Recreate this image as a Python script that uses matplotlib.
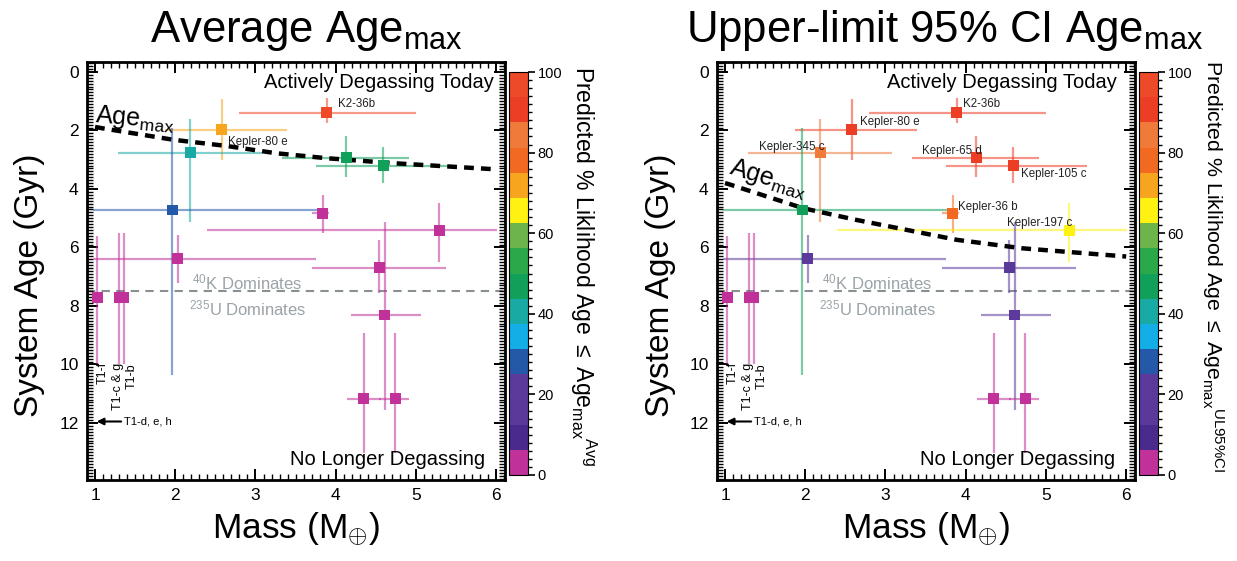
import numpy as np
import matplotlib
matplotlib.use("Agg")
import matplotlib.pyplot as plt
from matplotlib.colors import ListedColormap, Normalize
from matplotlib.cm import ScalarMappable
from matplotlib.ticker import MultipleLocator

plt.rcParams['font.family'] = ['Liberation Sans', 'DejaVu Sans']
plt.rcParams['mathtext.fontset'] = 'custom'
plt.rcParams['mathtext.rm'] = 'Liberation Sans'
plt.rcParams['mathtext.it'] = 'Liberation Sans:italic'
plt.rcParams['mathtext.bf'] = 'Liberation Sans:bold'

# ---------------- data ----------------
planets = ["K2-36b", "Kepler-80 e", "Kepler-345 c", "Kepler-65 d", "Kepler-105 c",
           "P6", "Kepler-36 b", "Kepler-197 c", "P9", "P10", "P11", "P12", "P13",
           "T1-f", "T1-c & g", "T1-b"]
mass = [3.89, 2.58, 2.19, 4.13, 4.59, 1.96, 3.84, 5.29, 2.03, 4.54, 4.61, 4.35, 4.74, 1.03, 1.30, 1.36]
mass_lo = [1.10, 0.71, 0.90, 0.80, 0.84, 0.98, 0.13, 2.90, 1.05, 0.84, 0.42, 0.21, 0.20, 0.03, 0.03, 0.03]
mass_hi = [1.11, 0.81, 0.89, 0.78, 0.92, 1.95, 0.08, 0.72, 1.72, 0.84, 0.45, 0.21, 0.17, 0.03, 0.03, 0.03]
age = [1.40, 1.97, 2.76, 2.93, 3.20, 4.72, 4.83, 5.42, 6.38, 6.69, 8.31, 11.17, 11.17, 7.70, 7.70, 7.70]
age_lo = [0.50, 1.04, 1.14, 0.73, 0.65, 2.82, 0.63, 0.94, 0.79, 0.93, 3.17, 2.24, 2.24, 2.10, 2.20, 2.20]
age_hi = [0.35, 1.03, 2.38, 0.67, 0.60, 5.63, 0.67, 1.08, 0.82, 0.86, 3.24, 1.86, 1.86, 2.30, 2.30, 2.30]

likelihood_avg = [95, 72, 40, 47, 47, 28, 3, 3, 3, 3, 3, 3, 3, 3, 3, 3]
likelihood_ul = [92, 90, 84, 91, 90, 47, 79, 65, 20, 15, 20, 3, 3, 3, 3, 3]

agemax_mass_avg = [1.00, 1.10, 1.98, 2.64, 3.26, 3.89, 4.72, 6.00]
agemax_avg = [1.88, 1.93, 2.32, 2.53, 2.78, 2.95, 3.12, 3.33]
agemax_mass_ul = [1.00, 1.04, 1.975, 2.64, 3.89, 4.71, 6.00]
agemax_ul = [3.80, 3.83, 4.66, 5.06, 5.74, 6.03, 6.31]
ku_age = [7.5, 7.5]
ku_mass = [0.9, 6.11]

cbar_colors = ['#c0329a', '#4a2a8c', '#5a399b', '#5c3a9c', '#2458a8', '#13aee6',
               '#1aaaa5', '#10a05a', '#2aa84a', '#6db44b', '#fff212', '#f7a51f',
               '#f26a22', '#f07a3a', '#ec3e24', '#ee4a2a']
cmap = ListedColormap(cbar_colors)
norm = Normalize(0, 100)

# labels per panel: (text, x, y, ha)
labels_avg = [("K2-36b", 4.03, 1.10, 'left'), ("Kepler-80 e", 2.66, 2.38, 'left')]
labels_ul = [("K2-36b", 3.96, 1.10, 'left'), ("Kepler-80 e", 2.68, 1.70, 'left'),
             ("Kepler-345 c", 1.42, 2.55, 'left'), ("Kepler-65 d", 3.45, 2.70, 'left'),
             ("Kepler-105 c", 4.69, 3.50, 'left'), ("Kepler-36 b", 3.91, 4.60, 'left'),
             ("Kepler-197 c", 4.51, 5.15, 'left')]

W, H = 1237, 561
fig = plt.figure(figsize=(W / 100, H / 100), dpi=100)


def px(x0, y0, x1, y1):
    return [x0 / W, 1 - y1 / H, (x1 - x0) / W, (y1 - y0) / H]


def panel(ax_rect, cax_rect, likelihood, amass, agemax, labels, amax_pos, amax_rot,
          active_x, title, title_x, cb_label, cb_label_x, cb_fs):
    ax = fig.add_axes(px(*ax_rect))
    ax.set_xlim(0.90, 6.11)
    ax.set_ylim(13.95, -0.34)
    for i in range(len(mass)):
        c = cmap(norm(likelihood[i]))
        ax.errorbar([mass[i]], [age[i]],
                    xerr=[[mass_lo[i]], [mass_hi[i]]],
                    yerr=[[age_lo[i]], [age_hi[i]]],
                    fmt='none', ecolor=c, alpha=0.55, lw=1.6, capsize=0, zorder=2)
    ax.plot(ku_mass, ku_age, ls=(0, (4, 3)), color='#8a8f92', lw=1.5, zorder=1)
    ax.plot(amass, agemax, ls=(0, (2.2, 1.6)), color='black', lw=3.2, zorder=3)
    ax.scatter(mass, age, c=likelihood, cmap=cmap, norm=norm, marker='s', s=62,
               edgecolors='none', zorder=4)

    for t, x, y, ha in labels:
        ax.text(x, y, t, fontsize=8.3, color='#222222', ha=ha, va='center', zorder=5)

    ax.text(amax_pos[0], amax_pos[1], r'Age$_{\rm max}$', fontsize=18, rotation=amax_rot,
            rotation_mode='anchor', ha='left', va='baseline', zorder=5)
    ax.text(active_x, 0.55, 'Actively Degassing Today', fontsize=14.5, ha='right', va='baseline')
    ax.text(5.86, 13.43, 'No Longer Degassing', fontsize=14.5, ha='right', va='baseline')
    ax.text(2.9, 7.18, r'$^{40}$K Dominates', fontsize=12, color='#9aa3a8', ha='center', va='center')
    ax.text(2.9, 8.08, r'$^{235}$U Dominates', fontsize=12, color='#9aa3a8', ha='center', va='center')

    ax.text(1.10, 9.9, 'T1-f', rotation=90, fontsize=9, ha='center', va='top')
    ax.text(1.29, 9.95, 'T1-c & g', rotation=90, fontsize=9, ha='center', va='top')
    ax.text(1.46, 9.95, 'T1-b', rotation=90, fontsize=9, ha='center', va='top')
    ax.annotate('T1-d, e, h', xy=(1.02, 11.95), xytext=(1.36, 11.95),
                fontsize=8, va='center', ha='left',
                arrowprops=dict(arrowstyle='-|>', color='black', lw=1.5,
                                mutation_scale=10, shrinkA=0, shrinkB=0))

    ax.xaxis.set_major_locator(MultipleLocator(1))
    ax.xaxis.set_minor_locator(MultipleLocator(0.1))
    ax.yaxis.set_major_locator(MultipleLocator(2))
    ax.yaxis.set_minor_locator(MultipleLocator(0.1))
    ax.tick_params(which='both', direction='in', top=True, right=True, labelsize=12.5)
    ax.tick_params(which='major', length=8, width=1.4, pad=6)
    ax.tick_params(which='minor', length=4, width=1.0)
    for s in ax.spines.values():
        s.set_linewidth(2)
    ax.set_xlabel(r'Mass (M$_{\oplus}$)', fontsize=25.5, labelpad=5)

    fig.text(title_x / W, 1 - 42 / H, title, fontsize=31.5, ha='center', va='baseline')

    cax = fig.add_axes(px(*cax_rect))
    cb = fig.colorbar(ScalarMappable(norm=norm, cmap=cmap), cax=cax)
    cb.set_ticks([0, 20, 40, 60, 80, 100])
    cax.yaxis.set_minor_locator(MultipleLocator(2))
    cax.tick_params(which='major', length=5, width=1.2, labelsize=10.5, pad=2)
    cax.tick_params(which='minor', length=3, width=1.0)
    cb.outline.set_linewidth(0.8)
    fig.text(cb_label_x / W, 1 - 266 / H, cb_label, rotation=-90, fontsize=cb_fs,
             ha='center', va='center')
    return ax


ax1 = panel((87, 62, 505, 480), (509, 72, 528, 475), likelihood_avg, agemax_mass_avg, agemax_avg,
            labels_avg, (1.0, 1.70), -5, 5.97, r'Average Age$_{\rm max}$', 306,
            r'Predicted % Liklihood Age $\leq$ Age$_{\rm max}{}^{\rm Avg}$', 583, 16.5)
ax2 = panel((717, 62, 1135, 480), (1139, 72, 1158, 475), likelihood_ul, agemax_mass_ul, agemax_ul,
            labels_ul, (1.04, 3.45), -17, 5.88, r'Upper-limit 95% CI Age$_{\rm max}$', 945,
            r'Predicted % Liklihood Age $\leq$ Age$_{\rm max}{}^{\rm UL95\%CI}$', 1213, 15.4)

fig.text(30 / W, 1 - 285 / H, 'System Age (Gyr)', rotation=90, fontsize=24, ha='center', va='center')
fig.text(660 / W, 1 - 285 / H, 'System Age (Gyr)', rotation=90, fontsize=24, ha='center', va='center')

fig.savefig('out.png', dpi=100)
